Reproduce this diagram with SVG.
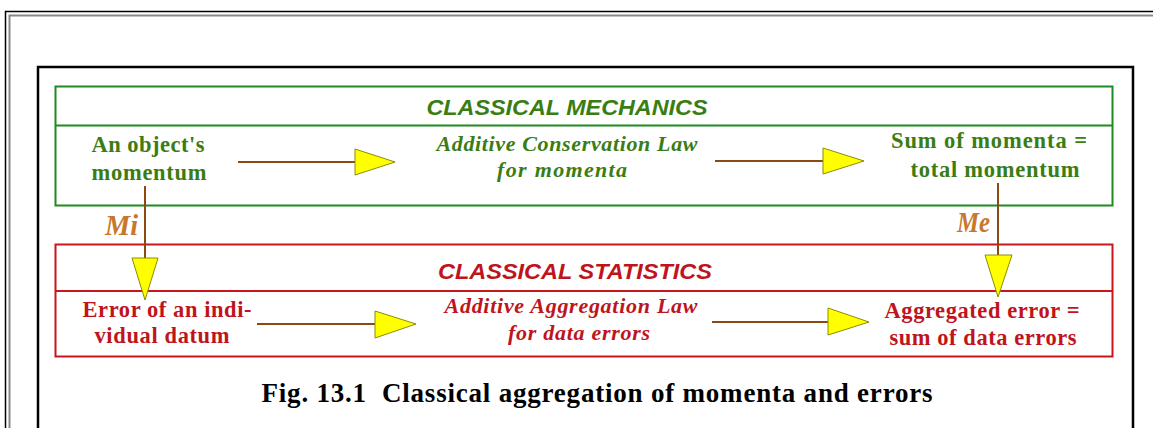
<svg xmlns="http://www.w3.org/2000/svg" width="1153" height="428" viewBox="0 0 1153 428">
<style>
.gbox{fill:none;stroke:#1f8a1f;stroke-width:2}
.rbox{fill:none;stroke:#c8161d;stroke-width:2}
.title{font-family:"Liberation Sans",Arial,sans-serif;font-weight:bold;font-style:italic;font-size:21.5px;text-anchor:middle}
.node{font-family:"Liberation Serif","Times New Roman",serif;font-weight:bold;font-size:22.5px;text-anchor:middle}
.law{font-family:"Liberation Serif","Times New Roman",serif;font-weight:bold;font-style:italic;font-size:22px;text-anchor:middle}
.g{fill:#3a7d12}
.r{fill:#c0141c}
.lbl{font-family:"Liberation Serif","Times New Roman",serif;font-weight:bold;font-style:italic;font-size:29px;fill:#c8782c}
.cap{font-family:"Liberation Serif","Times New Roman",serif;font-weight:bold;font-size:27px;fill:#000;text-anchor:middle}
.ln{stroke:#8b4a14;stroke-width:2;fill:none}
.head{fill:#ffff00;stroke:#8c8c00;stroke-width:1}
</style>
<rect width="1153" height="428" fill="#ffffff"/>
<g id="page-frame">
<path d="M5.5,428 V11.5 H1153" fill="none" stroke="#000" stroke-width="1.5"/>
<path d="M9.5,428 V15.5 H1153" fill="none" stroke="#888" stroke-width="2"/>
<path d="M38,428 V67 H1133 V428" fill="none" stroke="#000" stroke-width="2.5"/>
</g>
<g id="mechanics">
<rect class="gbox" x="55.5" y="86.5" width="1057" height="119"/>
<line x1="55.5" y1="125.5" x2="1112.5" y2="125.5" stroke="#1f8a1f" stroke-width="2"/>
<text class="title g" x="567" y="115" textLength="281" lengthAdjust="spacingAndGlyphs">CLASSICAL MECHANICS</text>
</g>
<g id="statistics">
<rect class="rbox" x="55.5" y="244.5" width="1057" height="112"/>
<line x1="55.5" y1="291" x2="1112.5" y2="291" stroke="#c8161d" stroke-width="2"/>
<text class="title r" x="575" y="279" textLength="274" lengthAdjust="spacingAndGlyphs">CLASSICAL STATISTICS</text>
</g>
<g id="object-momentum">
<text class="node g" x="148" y="152" textLength="113" lengthAdjust="spacing">An object's</text>
<text class="node g" x="149" y="180" textLength="115" lengthAdjust="spacing">momentum</text>
</g>
<g id="conservation-law">
<text class="law g" x="567" y="151" textLength="261" lengthAdjust="spacing">Additive Conservation Law</text>
<text class="law g" x="562" y="177" textLength="130" lengthAdjust="spacing">for momenta</text>
</g>
<g id="total-momentum">
<text class="node g" x="989" y="148" textLength="196" lengthAdjust="spacing">Sum of momenta =</text>
<text class="node g" x="995" y="177" textLength="169" lengthAdjust="spacing">total momentum</text>
</g>
<g id="datum-error">
<text class="node r" x="167" y="317" textLength="169" lengthAdjust="spacing">Error of an indi-</text>
<text class="node r" x="162" y="343" textLength="135" lengthAdjust="spacing">vidual datum</text>
</g>
<g id="aggregation-law">
<text class="law r" x="571" y="313" textLength="253" lengthAdjust="spacing">Additive Aggregation Law</text>
<text class="law r" x="579" y="340" textLength="142" lengthAdjust="spacing">for data errors</text>
</g>
<g id="aggregated-error">
<text class="node r" x="982" y="318" textLength="195" lengthAdjust="spacing">Aggregated error =</text>
<text class="node r" x="983" y="345" textLength="187" lengthAdjust="spacing">sum of data errors</text>
</g>
<g id="connectors">
<line class="ln" x1="238" y1="162" x2="355" y2="162"/>
<polygon class="head" points="355,149 395,162 355,175"/>
<line class="ln" x1="715" y1="161" x2="823" y2="161"/>
<polygon class="head" points="823,148 864,161 823,174"/>
<line class="ln" x1="257" y1="324" x2="375" y2="324"/>
<polygon class="head" points="375,311 416,324 375,338"/>
<line class="ln" x1="712" y1="322" x2="828" y2="322"/>
<polygon class="head" points="828,308 869,322 828,335"/>
<line class="ln" x1="145" y1="186" x2="145" y2="258"/>
<polygon class="head" points="132,258 158,258 145,300"/>
<line class="ln" x1="998" y1="183" x2="998" y2="255"/>
<polygon class="head" points="985,255 1012,255 998,297"/>
<text class="lbl" x="105" y="235" textLength="33" lengthAdjust="spacingAndGlyphs">Mi</text>
<text class="lbl" x="957" y="232" textLength="33" lengthAdjust="spacingAndGlyphs">Me</text>
</g>
<g id="caption">
<text class="cap" x="597" y="402" textLength="671" lengthAdjust="spacing" xml:space="preserve">Fig. 13.1  Classical aggregation of momenta and errors</text>
</g>
</svg>
